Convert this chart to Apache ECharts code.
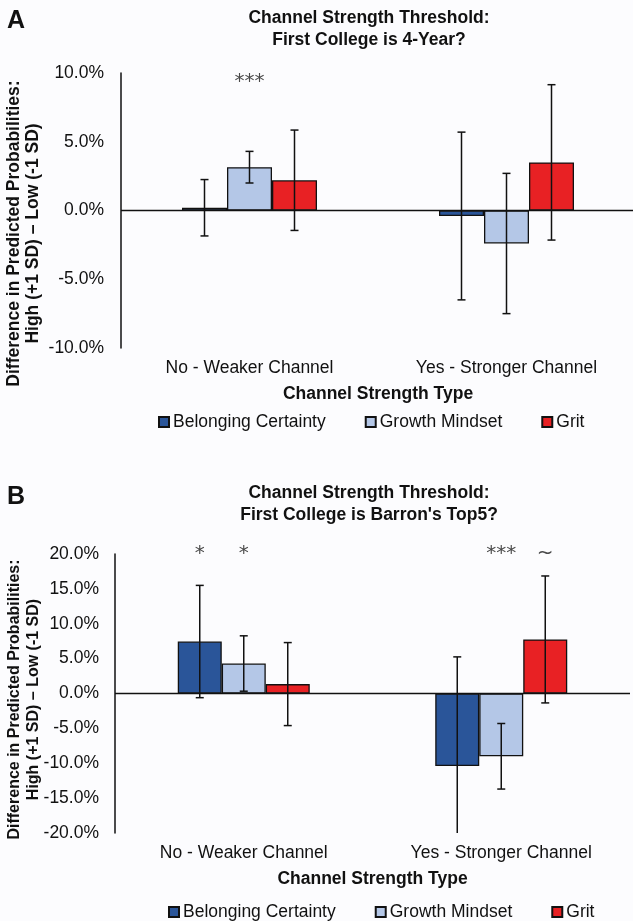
<!DOCTYPE html>
<html>
<head>
<meta charset="utf-8">
<script src="https://cdn.jsdelivr.net/npm/echarts@6/dist/echarts.min.js"></script>
<style>
  html, body { margin: 0; padding: 0; background: #fcfcfe; }
  #chart { width: 633px; height: 921px; }
</style>
</head>
<body>
<div id="chart"></div>
<script>
// ---------- data ----------
const categories = ['No - Weaker Channel', 'Yes - Stronger Channel'];
const seriesNames = ['Belonging Certainty', 'Growth Mindset', 'Grit'];
const yTicksA = [-10, -5, 0, 5, 10];
const yTicksB = [-20, -15, -10, -5, 0, 5, 10, 15, 20];

// Panel A: First College is 4-Year?
const belongingA = [0.2, -0.4];
const growthA = [3.15, -2.4];
const gritA = [2.2, 3.5];
const belongingErrA = [2.05, 6.1];
const growthErrA = [1.15, 5.1];
const gritErrA = [3.65, 5.65];
const belongingSigA = ['', ''];
const growthSigA = ['***', ''];
const gritSigA = ['', ''];

// Panel B: First College is Barron's Top5?
const belongingB = [7.45, -10.4];
const growthB = [4.3, -9.0];
const gritB = [1.35, 7.75];
const belongingErrB = [8.05, 15.65];
const growthErrB = [3.97, 4.7];
const gritErrB = [5.95, 9.1];
const belongingSigB = ['*', ''];
const growthSigB = ['*', '***'];
const gritSigB = ['', '~'];

// ---------- styles ----------
const FONT = 'Liberation Sans';
const FS = 17.5;
const colors = ['#2a5599', '#b4c7e7', '#e82124'];

const chart = echarts.init(document.getElementById('chart'), null, { renderer: 'canvas' });

function pct(v) { return v.toFixed(1) + '%'; }

function errRenderer(offsetIdx, bw) {
  return function (params, api) {
    const i = api.value(0), v = api.value(1), e = api.value(2);
    const top = api.coord([i, v + e]);
    const bot = api.coord([i, v - e]);
    const x = top[0] + (offsetIdx - 1) * bw;
    const cap = 4;
    const st = { stroke: '#111', lineWidth: 1.5 };
    return {
      type: 'group',
      children: [
        { type: 'line', shape: { x1: x, y1: top[1], x2: x, y2: bot[1] }, style: st },
        { type: 'line', shape: { x1: x - cap, y1: top[1], x2: x + cap, y2: top[1] }, style: st },
        { type: 'line', shape: { x1: x - cap, y1: bot[1], x2: x + cap, y2: bot[1] }, style: st }
      ]
    };
  };
}

const sigData = {};

function sigRenderer(offsetIdx, bw, dy) {
  return function (params, api) {
    const i = api.value(0);
    const txt = sigData[params.seriesName][params.dataIndex] || '';
    const c = api.coord([i, 0]);
    const x = c[0] + (offsetIdx - 1) * bw;
    const y = params.coordSys.y + dy;
    return {
      type: 'text',
      style: {
        text: txt, x: x, y: y, align: 'center', verticalAlign: 'middle',
        fontFamily: 'DejaVu Sans', fontSize: 20, fill: '#4a4a4a'
      }
    };
  };
}

function buildPanel(gi, vals, errs, sigs, bw, dy) {
  const out = [];
  vals.forEach((arr, k) => {
    const s = {
      name: seriesNames[k], type: 'bar', xAxisIndex: gi, yAxisIndex: gi,
      data: arr, barWidth: bw, barGap: '0%',
      itemStyle: { color: colors[k], borderColor: '#111', borderWidth: 1.3 },
      z: 2
    };
    if (k === 0) {
      s.markLine = {
        silent: true, symbol: 'none', label: { show: false },
        lineStyle: { color: '#111', width: 1.3, type: 'solid' },
        data: [{ yAxis: 0 }], z: 3
      };
    }
    out.push(s);
  });
  errs.forEach((arr, k) => {
    out.push({
      type: 'custom', name: seriesNames[k], xAxisIndex: gi, yAxisIndex: gi,
      renderItem: errRenderer(k, bw), clip: true, z: 5,
      data: arr.map((e, i) => [i, vals[k][i], e]),
      tooltip: { show: false }
    });
  });
  sigs.forEach((arr, k) => {
    const nm = 'sig' + gi + '_' + k;
    sigData[nm] = arr;
    out.push({
      type: 'custom', name: nm, xAxisIndex: gi, yAxisIndex: gi,
      renderItem: sigRenderer(k, bw, dy), clip: false, z: 6,
      data: arr.map((t, i) => [i, 0])
    });
  });
  return out;
}

const yName = '{b|Difference in Predicted Probabilities:}\n{b|High (+1 SD) \u2013 Low (-1 SD)}';

function xAxisDef(gi) {
  return {
    gridIndex: gi, type: 'category', data: categories,
    axisLine: { show: false }, axisTick: { show: false },
    axisLabel: { color: '#111', fontFamily: FONT, fontSize: FS, margin: 11 },
    name: 'Channel Strength Type', nameLocation: 'middle', nameGap: 37, nameMoveOverlap: false,
    nameTextStyle: { color: '#111', fontFamily: FONT, fontSize: FS, fontWeight: 'bold' }
  };
}
function yAxisDef(gi, ticks, gap, margin, nfs, pad) {
  return {
    gridIndex: gi, type: 'value', min: ticks[0], max: ticks[ticks.length - 1], interval: 5,
    axisLine: { show: true, lineStyle: { color: '#111', width: 1.5 } },
    axisTick: { show: false }, splitLine: { show: false },
    axisLabel: { color: '#111', fontFamily: FONT, fontSize: FS, margin: margin, formatter: pct },
    name: yName, nameLocation: 'middle', nameGap: gap, nameMoveOverlap: false,
    nameTextStyle: {
      color: '#111', fontFamily: FONT, fontSize: nfs, padding: pad,
      rich: { b: { fontFamily: FONT, fontSize: nfs, fontWeight: 'bold', color: '#111', lineHeight: 19 } }
    }
  };
}

const legendBase = {
  data: seriesNames, icon: 'rect', itemWidth: 10, itemHeight: 10, itemGap: 39,
  textStyle: { color: '#111', fontFamily: FONT, fontSize: FS, padding: [0, 0, 0, -1] },
  selectedMode: false
};

const option = {
  backgroundColor: '#fcfcfe',
  animation: false,
  color: colors,
  grid: [
    { left: 121, top: 73, width: 514, height: 275, outerBoundsMode: 'none', containLabel: false },
    { left: 115, top: 554, width: 515, height: 279, outerBoundsMode: 'none', containLabel: false }
  ],
  xAxis: [xAxisDef(0), xAxisDef(1)],
  yAxis: [
    yAxisDef(0, yTicksA, 78, 17, 17.5, [0, 46, 0, 0]),
    yAxisDef(1, yTicksB, 72, 16, 16, [0, 12, 0, 0])
  ],
  legend: [
    Object.assign({}, legendBase, { left: 153, top: 408 }),
    Object.assign({}, legendBase, { left: 163, top: 898 })
  ],
  graphic: [
    { type: 'text', left: 7, top: 9, style: { text: 'A', fontFamily: FONT, fontSize: 25, fontWeight: 'bold', fill: '#111' } },
    { type: 'text', left: 7, top: 485, style: { text: 'B', fontFamily: FONT, fontSize: 25, fontWeight: 'bold', fill: '#111' } },
    { type: 'text', x: 369, y: 7, style: { text: 'Channel Strength Threshold:\nFirst College is 4-Year?', align: 'center', fontFamily: FONT, fontSize: FS, fontWeight: 'bold', lineHeight: 22, fill: '#111' } },
    { type: 'text', x: 369, y: 482, style: { text: "Channel Strength Threshold:\nFirst College is Barron's Top5?", align: 'center', fontFamily: FONT, fontSize: FS, fontWeight: 'bold', lineHeight: 22, fill: '#111' } }
  ],
  series: [].concat(
    buildPanel(0, [belongingA, growthA, gritA], [belongingErrA, growthErrA, gritErrA], [belongingSigA, growthSigA, gritSigA], 45, 9),
    buildPanel(1, [belongingB, growthB, gritB], [belongingErrB, growthErrB, gritErrB], [belongingSigB, growthSigB, gritSigB], 44, 0)
  )
};
chart.setOption(option);
</script>
</body>
</html>
